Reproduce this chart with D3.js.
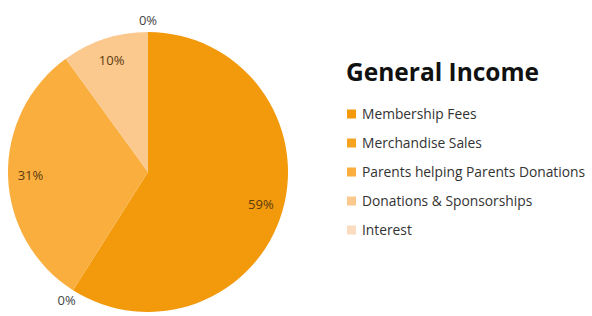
<!DOCTYPE html>
<html>
<head>
<meta charset="utf-8">
<script src="https://cdn.jsdelivr.net/npm/d3@7"></script>
<style>
  body { margin: 0; background: #fff; }
  svg text { font-family: "Open Sans", Lato, sans-serif; }
</style>
</head>
<body>
<div id="chart"></div>
<script>
// data
const categories = ["Membership Fees", "Merchandise Sales", "Parents helping Parents Donations", "Donations & Sponsorships", "Interest"];
const shares = [59, 0, 31, 10, 0];
const labels = ["59%", "0%", "31%", "10%", "0%"];
const colors = ["#f29a0c", "#f6a322", "#f9ae3e", "#fbc98e", "#fcdcc0"];

const W = 592, H = 316;
const cx = 148, cy = 172, radius = 140;

const svg = d3.select("#chart").append("svg")
    .attr("width", W)
    .attr("height", H);

const data = categories.map((c, i) => ({ name: c, value: shares[i], label: labels[i], color: colors[i] }));

const pie = d3.pie().value(d => d.value).sort(null);
const arcs = pie(data);
const arc = d3.arc().innerRadius(0).outerRadius(radius);

const g = svg.append("g").attr("transform", `translate(${cx},${cy})`);

g.selectAll("path.slice")
    .data(arcs.filter(a => a.data.value > 0))
    .enter()
    .append("path")
    .attr("class", "slice")
    .attr("d", arc)
    .attr("fill", d => d.data.color);

// labels: inside for real slices, outside for the 0% ones
const inArc = d3.arc().innerRadius(radius * 0.84).outerRadius(radius * 0.84);
const outArc = d3.arc().innerRadius(radius + 12).outerRadius(radius + 12);

g.selectAll("text.lbl")
    .data(arcs)
    .enter()
    .append("text")
    .attr("class", "lbl")
    .attr("transform", d => `translate(${(d.data.value > 0 ? inArc : outArc).centroid(d)})`)
    .attr("text-anchor", "middle")
    .attr("dy", "0.35em")
    .attr("font-size", 13)
    .attr("fill", d => d.data.value > 0 ? "#5b3a10" : "#444")
    .text(d => d.data.label);

// title
svg.append("text")
    .attr("x", 346)
    .attr("y", 81)
    .attr("font-size", 24.5)
    .attr("font-weight", "bold")
    .attr("fill", "#111")
    .text("General Income");

// legend
const leg = svg.selectAll("g.leg")
    .data(data)
    .enter()
    .append("g")
    .attr("class", "leg")
    .attr("transform", (d, i) => `translate(347,${114 + i * 29})`);

leg.append("rect")
    .attr("x", 0).attr("y", -4.5)
    .attr("width", 9).attr("height", 9)
    .attr("fill", d => d.color);

leg.append("text")
    .attr("x", 15)
    .attr("dy", "0.35em")
    .attr("font-size", 13.8)
    .attr("fill", "#333")
    .text(d => d.name);
</script>
</body>
</html>
